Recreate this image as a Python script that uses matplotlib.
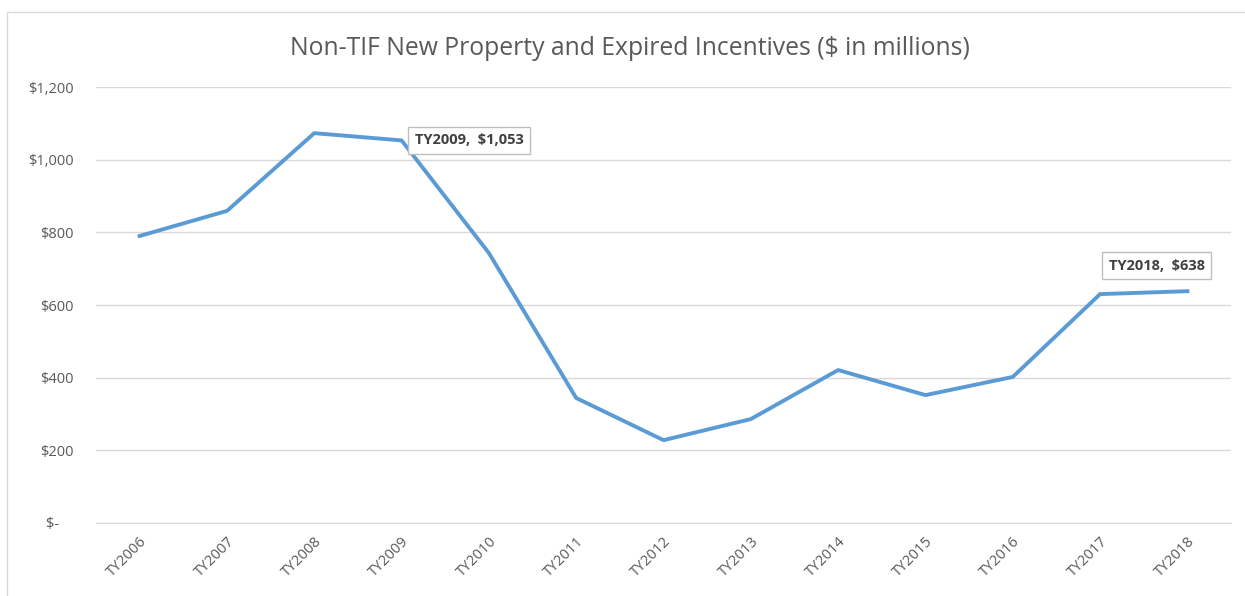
import matplotlib.pyplot as plt
from matplotlib.patches import Rectangle

years = ['TY2006', 'TY2007', 'TY2008', 'TY2009', 'TY2010', 'TY2011', 'TY2012',
         'TY2013', 'TY2014', 'TY2015', 'TY2016', 'TY2017', 'TY2018']
values = [790, 859, 1073, 1053, 743, 344, 228, 286, 421, 352, 402, 630, 638]
yticks = [0, 200, 400, 600, 800, 1000, 1200]
ytick_labels = ['$-    ', '$200', '$400', '$600', '$800', '$1,000', '$1,200']

plt.rcParams['font.family'] = ['Open Sans', 'DejaVu Sans']

fig = plt.figure(figsize=(12.45, 5.96), dpi=100)
ax = fig.add_axes([0.0771, 0.1225, 0.9117, 0.7315])

# chart border
fig.patches.append(Rectangle((0.006, -0.01), 1.0, 0.99, transform=fig.transFigure,
                             fill=False, edgecolor='#d9d9d9', linewidth=1))

x = list(range(len(years)))
ax.plot(x, values, color='#5B9BD5', linewidth=2.8, solid_joinstyle='round')

ax.set_xlim(-0.5, len(years) - 0.5)
ax.set_ylim(0, 1200)
ax.set_yticks(yticks)
ax.set_yticklabels(ytick_labels)
ax.set_xticks(x)
ax.set_xticklabels(years, rotation=45, ha='right', rotation_mode='anchor')
ax.grid(axis='y', color='#d9d9d9', linewidth=1)
ax.set_axisbelow(True)
for s in ['top', 'right', 'left']:
    ax.spines[s].set_visible(False)
ax.spines['bottom'].set_color('#d9d9d9')
ax.tick_params(axis='both', length=0, colors='#595959', labelsize=10.5)
ax.tick_params(axis='y', pad=16)
ax.tick_params(axis='x', pad=8)

fig.text(0.506, 0.918, 'Non-TIF New Property and Expired Incentives ($ in millions)',
         ha='center', va='center', fontsize=17.8, color='#595959')

box = dict(boxstyle='square,pad=0.45', facecolor='white', edgecolor='#bfbfbf', linewidth=1)
ax.annotate('TY2009,  $1,053', xy=(3, values[3]), xytext=(3.15, values[3]),
            fontsize=10.5, fontweight='bold', color='#404040', bbox=box,
            ha='left', va='center')
ax.annotate('TY2018,  $638', xy=(12, values[12]), xytext=(11.65, values[12] + 70),
            fontsize=10.5, fontweight='bold', color='#404040', bbox=box,
            ha='center', va='center')

fig.savefig('out.png', dpi=100)
